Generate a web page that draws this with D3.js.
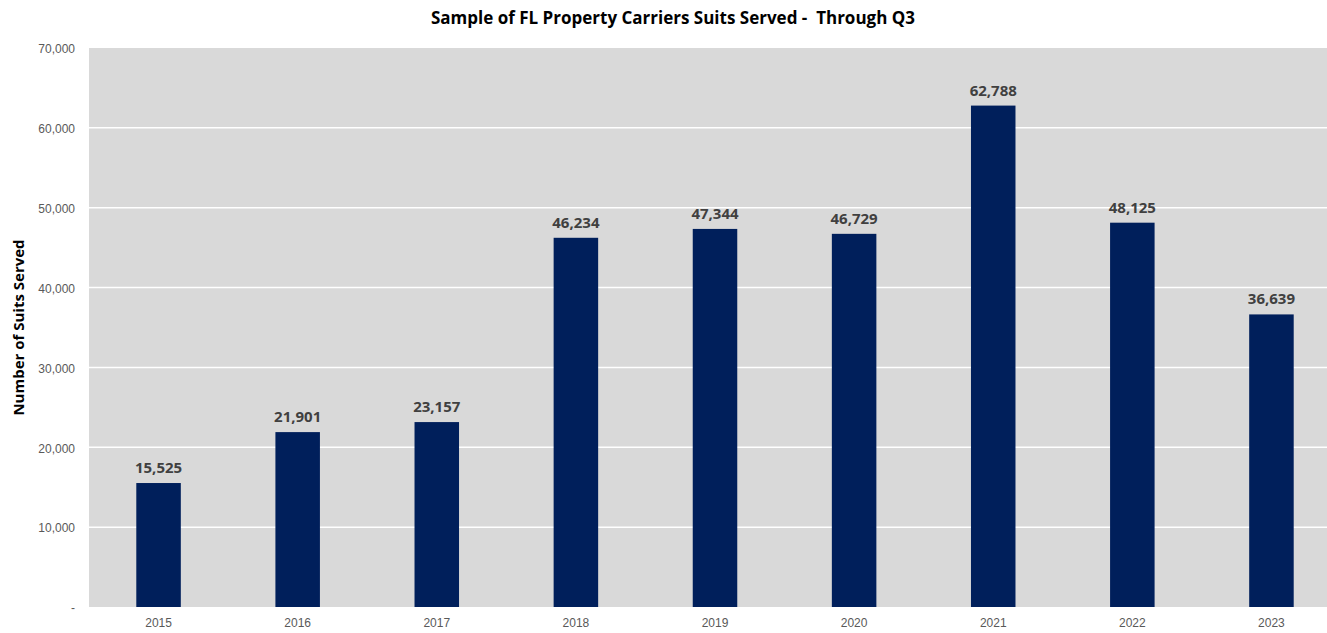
<!DOCTYPE html>
<html>
<head>
    <meta charset="UTF-8">
    <title>FL Property Carriers Suits Served</title>
    <script src="https://d3js.org/d3.v7.min.js"></script>
    <style>
        * { padding: 0; margin: 0; }
        body { background: #fff; overflow: hidden; }
        svg { display: block; font-family: "Open Sans", "Noto Sans", sans-serif; }
        .tick text { fill: #595959; font-size: 12px; }
        .tick line, .domain { display: none; }
    </style>
</head>
<body>
    <svg id="main" width="1327" height="633"></svg>
    <script>
const years = ["2015", "2016", "2017", "2018", "2019", "2020", "2021", "2022", "2023"];
const suits = [15525, 21901, 23157, 46234, 47344, 46729, 62788, 48125, 36639];
const yTicks = [0, 10000, 20000, 30000, 40000, 50000, 60000, 70000];

const svg = d3.select("#main");
const margin = { top: 48, left: 89, bottom: 607 };
const rightEdge = 1341; // plot runs past the image edge

const x = d3.scaleBand().domain(years).range([margin.left, rightEdge]).paddingInner(0.68).paddingOuter(0.34);
const y = d3.scaleLinear().domain([0, 70000]).range([margin.bottom, margin.top]);

// gray plot area
svg.append("rect")
    .attr("x", margin.left).attr("y", y(70000))
    .attr("width", rightEdge - margin.left).attr("height", y(0) - y(70000))
    .attr("fill", "#d9d9d9");

// gridlines
svg.append("g").selectAll("line")
    .data(yTicks.filter(d => d > 0 && d < 70000))
    .enter().append("line")
    .attr("x1", margin.left).attr("x2", rightEdge)
    .attr("y1", d => y(d)).attr("y2", d => y(d))
    .attr("stroke", "#ffffff").attr("stroke-width", 1.5);

// y axis
svg.append("g")
    .attr("transform", `translate(${margin.left - 14},1)`)
    .call(d3.axisLeft(y).tickValues(yTicks).tickSize(0).tickPadding(0)
        .tickFormat(d => d === 0 ? "-" : d3.format(",")(d)));

// x axis
svg.append("g")
    .attr("transform", `translate(0,${margin.bottom + 11})`)
    .call(d3.axisBottom(x).tickSize(0).tickPadding(0));

// bars
const data = years.map((yr, i) => ({ year: yr, value: suits[i] }));
svg.append("g").selectAll("rect")
    .data(data)
    .enter().append("rect")
    .attr("x", d => x(d.year))
    .attr("y", d => y(d.value))
    .attr("width", x.bandwidth())
    .attr("height", d => y(0) - y(d.value))
    .attr("fill", "#001f5b");

// value labels
svg.append("g").selectAll("text")
    .data(data)
    .enter().append("text")
    .attr("x", d => x(d.year) + x.bandwidth() / 2)
    .attr("y", d => y(d.value) - 10)
    .attr("text-anchor", "middle")
    .attr("font-size", 15)
    .attr("font-weight", "bold")
    .attr("fill", "#404040")
    .text(d => d3.format(",")(d.value));

// title
svg.append("text")
    .attr("x", 673).attr("y", 24)
    .attr("text-anchor", "middle")
    .attr("font-size", 17)
    .attr("font-weight", "bold")
    .attr("fill", "#000")
    .style("white-space", "pre")
    .text("Sample of FL Property Carriers Suits Served -  Through Q3");

// y axis title
svg.append("text")
    .attr("transform", `translate(24,${(margin.top + margin.bottom) / 2}) rotate(-90)`)
    .attr("text-anchor", "middle")
    .attr("font-size", 15)
    .attr("font-weight", "bold")
    .attr("fill", "#000")
    .text("Number of Suits Served");
    </script>
</body>
</html>
